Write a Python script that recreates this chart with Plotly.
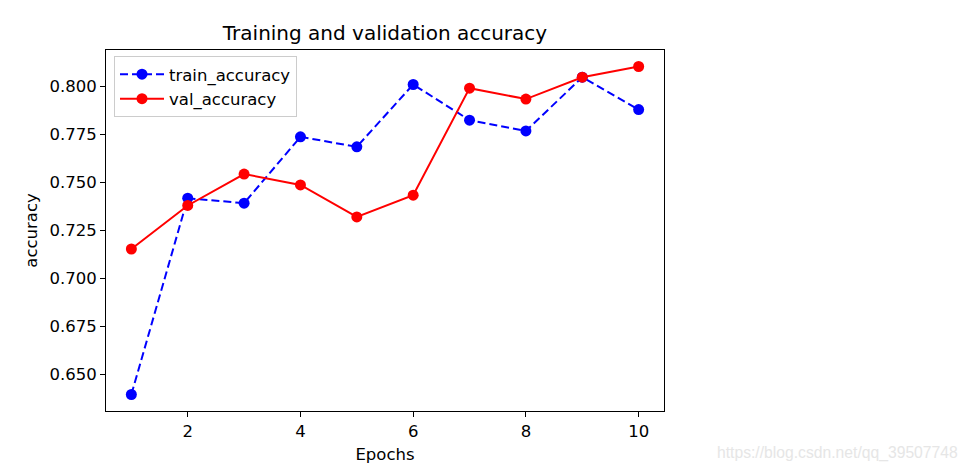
import plotly.graph_objects as go

epochs = [1, 2, 3, 4, 5, 6, 7, 8, 9, 10]
train_accuracy = [0.6393, 0.7417, 0.7391, 0.7737, 0.7685, 0.8010, 0.7824, 0.7768, 0.8048, 0.7879]
val_accuracy = [0.7152, 0.7379, 0.7543, 0.7486, 0.7319, 0.7433, 0.7991, 0.7934, 0.8048, 0.8104]
y_ticks = [0.650, 0.675, 0.700, 0.725, 0.750, 0.775, 0.800]
x_ticks = [2, 4, 6, 8, 10]

FONT = "DejaVu Sans"
FS = 16.5

# page has an 8px body margin, so the figure is drawn at (8, 8)
W, H = 962, 464
L, R, T, B = 98, 306, 42, 61

fig = go.Figure()
fig.add_trace(go.Scatter(
    x=epochs, y=train_accuracy, mode="lines+markers", name="train_accuracy",
    line=dict(color="#0000ff", width=2, dash="8px,4px"),
    marker=dict(color="#0000ff", size=11),
))
fig.add_trace(go.Scatter(
    x=epochs, y=val_accuracy, mode="lines+markers", name="val_accuracy",
    line=dict(color="#ff0000", width=2),
    marker=dict(color="#ff0000", size=11),
))

axis_common = dict(
    showgrid=False, zeroline=False, showline=True, linecolor="black", linewidth=1,
    mirror=True, ticks="outside", ticklen=5, tickwidth=1, tickcolor="black",
    tickfont=dict(family=FONT, size=FS, color="black"),
)

pw = W - L - R
ph = H - T - B

fig.update_layout(
    width=W, height=H,
    margin=dict(l=L, r=R, t=T, b=B),
    paper_bgcolor="white", plot_bgcolor="white",
    font=dict(family=FONT, color="black"),
    title=dict(text="Training and validation accuracy", x=(L + pw / 2) / W, xanchor="center",
               y=1 - (33 - 8) / H, yanchor="middle", font=dict(family=FONT, size=20, color="black")),
    xaxis=dict(range=[0.55, 10.45], tickvals=x_ticks,
               title=dict(text="Epochs", font=dict(family=FONT, size=FS), standoff=8), **axis_common),
    yaxis=dict(range=[0.6307, 0.8190], tickvals=y_ticks, tickformat=".3f",
               title=dict(text="accuracy", font=dict(family=FONT, size=FS), standoff=7), **axis_common),
    legend=dict(x=(114 - 106) / pw, y=1 - (56 - 50) / ph, xanchor="left", yanchor="top",
                bordercolor="#cccccc", borderwidth=1, bgcolor="rgba(255,255,255,0.8)",
                font=dict(family=FONT, size=FS, color="black"), itemwidth=44,
                tracegroupgap=0),
    showlegend=True,
)

fig.add_annotation(text="https://blog.csdn.net/qq_39507748", xref="paper", yref="paper",
                   x=(960 - 106) / pw, y=-(453 - 411) / ph, xanchor="right", yanchor="middle",
                   showarrow=False, font=dict(family="Liberation Sans", size=15.7, color="#e6e6e6"))

fig.write_html("out.html")
